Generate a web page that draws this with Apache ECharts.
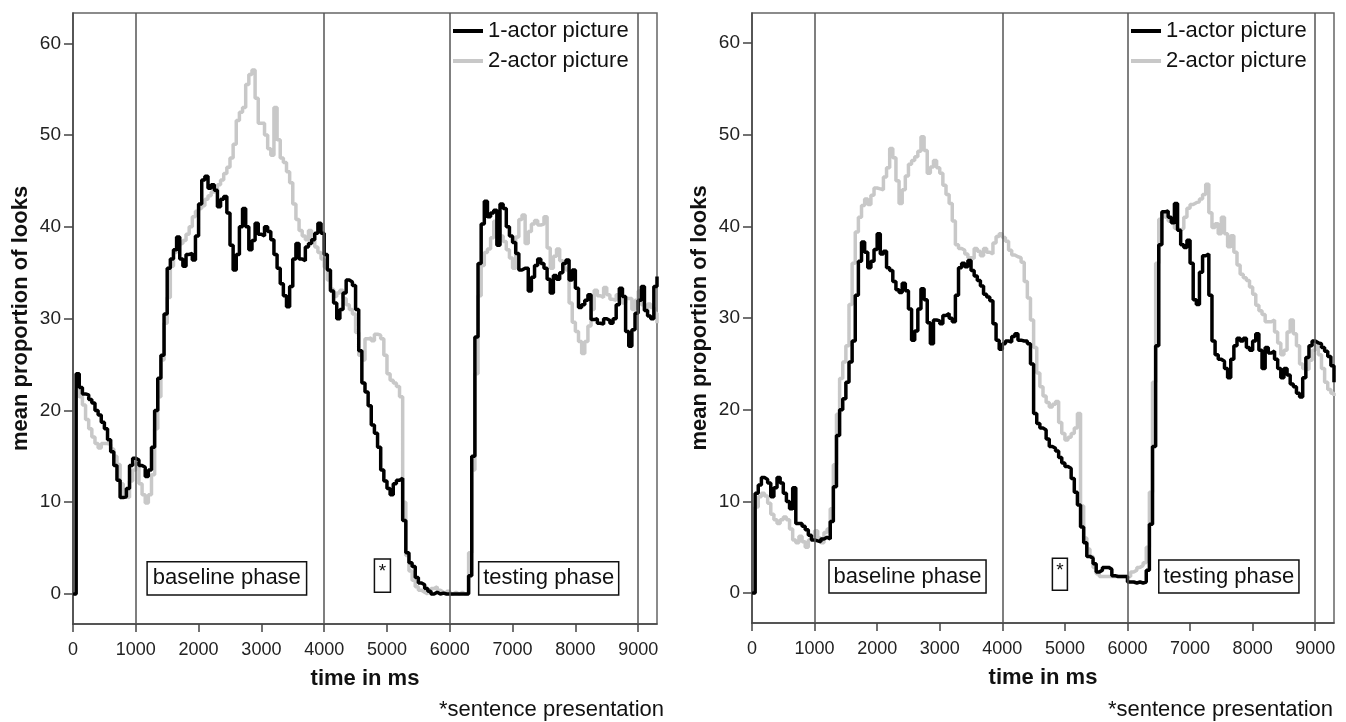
<!DOCTYPE html>
<html>
<head>
<meta charset="utf-8">
<title>mean proportion of looks</title>
<script src="https://cdn.jsdelivr.net/npm/echarts@6/dist/echarts.min.js"></script>
<style>
  html, body { margin: 0; padding: 0; background: #fff; }
  #chart { width: 1346px; height: 722px; }
</style>
</head>
<body>
<div id="chart"></div>
<script>
// sample times (ms), one reading every 50 ms
var timeMs = [
  0, 50, 100, 150, 200, 250, 300, 350, 400, 450, 500, 550, 600, 650, 700, 750, 800, 850, 900, 950,
  1000, 1050, 1100, 1150, 1200, 1250, 1300, 1350, 1400, 1450, 1500, 1550, 1600, 1650, 1700, 1750, 1800, 1850, 1900, 1950,
  2000, 2050, 2100, 2150, 2200, 2250, 2300, 2350, 2400, 2450, 2500, 2550, 2600, 2650, 2700, 2750, 2800, 2850, 2900, 2950,
  3000, 3050, 3100, 3150, 3200, 3250, 3300, 3350, 3400, 3450, 3500, 3550, 3600, 3650, 3700, 3750, 3800, 3850, 3900, 3950,
  4000, 4050, 4100, 4150, 4200, 4250, 4300, 4350, 4400, 4450, 4500, 4550, 4600, 4650, 4700, 4750, 4800, 4850, 4900, 4950,
  5000, 5050, 5100, 5150, 5200, 5250, 5300, 5350, 5400, 5450, 5500, 5550, 5600, 5650, 5700, 5750, 5800, 5850, 5900, 5950,
  6000, 6050, 6100, 6150, 6200, 6250, 6300, 6350, 6400, 6450, 6500, 6550, 6600, 6650, 6700, 6750, 6800, 6850, 6900, 6950,
  7000, 7050, 7100, 7150, 7200, 7250, 7300, 7350, 7400, 7450, 7500, 7550, 7600, 7650, 7700, 7750, 7800, 7850, 7900, 7950,
  8000, 8050, 8100, 8150, 8200, 8250, 8300, 8350, 8400, 8450, 8500, 8550, 8600, 8650, 8700, 8750, 8800, 8850, 8900, 8950,
  9000, 9050, 9100, 9150, 9200, 9250, 9300
]

// left panel
var leftOneActor = [
  0, 24, 22.5, 21.8, 21.7, 21.2, 20.8, 20, 19.5, 18.7, 18, 16.8, 15.5, 14, 12.4, 10.5, 10.6, 11.5, 14, 14.8,
  14.6, 14, 13.8, 12.8, 13.5, 16, 20, 23.5, 26, 30.5, 35.5, 36.5, 37.5, 38.9, 36.5, 35.7, 37, 37.1, 36.4, 39,
  42.5, 45.1, 45.5, 44.2, 44.6, 44, 42.2, 43, 43.3, 41.5, 38, 35.3, 37, 40, 42, 40, 37.5, 38.5, 40.4, 39.2,
  39, 40, 39.5, 38.6, 37, 35.5, 33.8, 32.5, 31.3, 33.5, 36.5, 38.2, 36.5, 36.3, 37.8, 38.2, 38.6, 39.3, 40.4, 39.3,
  37, 35.3, 33, 31.7, 30, 31, 32.8, 34.2, 34, 33.6, 31, 26.5, 23, 22, 20.5, 18.4, 17.5, 16, 13.5, 12.3,
  11.5, 10.8, 12, 12.4, 12.6, 8, 4.5, 3.4, 3, 1.8, 1.2, 1, 0.6, 0.3, 0, 0.2, 0, 0.1, 0, 0,
  0, 0, 0, 0, 0, 0, 2, 15, 28, 36, 40.3, 42.8, 41.1, 41.5, 41.8, 38, 42.5, 42, 40, 39,
  38.3, 37.1, 35.3, 35.5, 35.5, 33, 34.5, 35.8, 36.5, 36, 35.5, 34.3, 32.8, 34.7, 34.3, 35, 36, 36.4, 34.2, 35.3,
  33.3, 31.2, 31.5, 32, 32.6, 29.9, 30, 29.5, 29.4, 30, 29.8, 29.5, 30, 31.5, 33.3, 32.4, 28.6, 27, 28.8, 30.6,
  32, 33.5, 30.9, 30.3, 30, 33.5, 34.6
]
var leftTwoActor = [
  0, 22.2, 21.5, 20.6, 19, 18, 17.1, 16.4, 15.9, 16.4, 16.4, 16.3, 15.8, 15, 14.1, 12, 10.6, 10.5, 12.3, 13.5,
  14.2, 12, 10.8, 9.9, 10.8, 13, 18, 21.5, 25.5, 29.5, 32.3, 35.7, 37.2, 37.9, 38.2, 38.5, 39.2, 40, 41.1, 41.7,
  42, 42.3, 43, 43.4, 43.8, 44, 44.6, 45.1, 45.8, 46.5, 47.5, 49, 51.6, 52.5, 53, 55.5, 56.6, 57.1, 54, 51.3,
  51.3, 50, 48.5, 47.8, 53, 49.5, 47.5, 47, 46, 44.8, 42.5, 40.8, 39.6, 39, 38.6, 39.6, 38.5, 37.8, 37.2, 36.5,
  35.6, 34.2, 33.2, 32.4, 32.8, 33.1, 32.2, 31.5, 31, 30.5, 28.5, 26, 25.5, 27.8, 27.9, 27.6, 28.3, 28.2, 27.8, 26,
  24, 23.3, 23, 22.6, 21.5, 10, 4.2, 2.5, 1.5, 0.8, 0.4, 0.2, 0, 0.3, 0.6, 0.8, 0.4, 0.2, 0, 0.3,
  0, 0.2, 0, 0.2, 0, 0.1, 4.5, 13.5, 24, 32.5, 35.8, 37.2, 37.6, 38.8, 40.6, 39.8, 39, 38.4, 37.5, 36.6,
  35.5, 38.9, 40.8, 41.3, 38.2, 39.5, 40.3, 40.7, 40.2, 40.3, 41.1, 37.7, 35.5, 36.8, 37.6, 36.3, 35.6, 35.3, 31.7, 29.6,
  28.6, 27.5, 26.2, 27.5, 29.2, 31, 33.1, 32.5, 32.3, 33.4, 32.6, 32.1, 32, 32.6, 32.5, 31.7, 32.2, 32.2, 31, 32,
  33, 31.5, 30.9, 31.6, 31.2, 30.6, 29.5
]

// right panel
var rightOneActor = [
  0, 10.9, 11.8, 12.6, 12.4, 12, 10.5, 11.5, 12.6, 12, 10.9, 10, 9.2, 11.5, 7.6, 7.6, 7.3, 6.9, 6.3, 5.8,
  5.7, 5.6, 5.9, 6.1, 5.9, 7.8, 11.6, 17.2, 20, 21.2, 23, 25.2, 27.5, 32.5, 36.2, 38.3, 37.2, 35.5, 36.2, 37.5,
  39.2, 37, 37.3, 35.5, 35.2, 34, 33.1, 32.8, 33.8, 33, 31, 27.6, 28.6, 31, 33.2, 32, 29.5, 27.2, 29.8, 29.7,
  29.4, 30.3, 30.5, 30, 29.6, 32.5, 35.5, 36, 35.6, 36.3, 35.2, 34.6, 34.1, 33.5, 32.6, 32.3, 31.9, 29.4, 27.6, 26.6,
  27.2, 27.5, 27.4, 28, 28.3, 27.6, 27.5, 27.5, 27.2, 25, 19.6, 18.5, 18, 17.8, 16.8, 16, 15.8, 15.5, 14.8, 14.2,
  13.8, 13.6, 12.5, 11, 9.6, 7.2, 5.5, 4, 3.8, 3.2, 2.3, 2.5, 2.8, 2.8, 2.6, 1.9, 1.8, 1.8, 1.8, 1.8,
  1.2, 1.2, 1.1, 1.2, 1.1, 1.2, 2.5, 7.5, 16, 27, 38, 41.6, 41.7, 41, 40.4, 42.5, 39.6, 38, 37.7, 38.5,
  36, 32, 31.5, 35, 36.8, 37, 32.5, 27.5, 26, 25.5, 25.3, 24.5, 23.5, 25.5, 27, 27.8, 27.5, 27.8, 26.8, 26.5,
  27.5, 28.3, 26.5, 24.5, 26.8, 26.2, 26.4, 25.5, 24.5, 23.5, 24.5, 23.8, 22.8, 22.5, 21.8, 21.4, 23.5, 25.7, 27, 27.5,
  27.3, 27.2, 26.8, 26.4, 25.8, 24.8, 23
]
var rightTwoActor = [
  0, 9.4, 10.5, 10.9, 10.6, 9.8, 8.6, 8, 7.6, 8, 8.3, 8, 7, 5.8, 5.5, 6.2, 5.6, 5, 5.8, 6.2,
  6.8, 6, 5.5, 6.6, 7, 9.2, 14, 19.5, 23.4, 25.2, 27, 31.5, 36, 39.4, 41, 42.3, 43, 42.4, 43.4, 44.2,
  44.1, 44, 45.4, 46.4, 48.5, 47.5, 45, 42.5, 44, 45.5, 46.8, 47.2, 47.6, 48.2, 49.8, 48.3, 45.8, 46.5, 47.2, 46.4,
  45.8, 44.5, 43.5, 42.5, 40.6, 38, 37.6, 37.4, 37, 36.6, 36.5, 37.6, 37.3, 36.8, 37.6, 37.2, 37, 38.2, 38.9, 39.2,
  38.8, 38.4, 37.4, 36.9, 36.7, 36.6, 36.1, 34, 32.2, 29.8, 26.8, 24, 22.5, 21.5, 20.8, 20.3, 20.6, 20.9, 18.6, 17.4,
  16.7, 17, 17.4, 18, 19.6, 9.5, 6, 4.8, 4, 2.8, 2.1, 1.8, 1.8, 1.8, 1.8, 1.8, 1.8, 1.8, 1.8, 1.8,
  1.8, 2.3, 2.5, 2.8, 3, 3.3, 5, 11, 23, 36, 40.8, 41.5, 41, 40.6, 40.4, 39.8, 39.6, 39.8, 41, 42,
  42.4, 42.6, 42.7, 43, 43.5, 44.6, 41.5, 39.9, 40.3, 39.2, 41, 39.2, 37.8, 39, 37.2, 35.8, 34.8, 34.4, 34.1, 33.4,
  32.6, 31.4, 30.8, 30.4, 29.6, 29.6, 29.8, 28.5, 27.3, 26, 26.5, 28.5, 29.8, 28.3, 27, 25, 24.5, 24.4, 25.4, 26.5,
  27.2, 26, 24.5, 23, 22.2, 21.8, 21.5
]

var seriesNames = ['1-actor picture', '2-actor picture']
var yTicks = [0, 10, 20, 30, 40, 50, 60]
var phaseLines = [1000, 4000, 6000, 9000]
// phase boxes: [label, x from, x to, y from, y to]
var leftBoxes = [
  ['baseline phase', 1180, 3720, -0.1, 3.5],
  ['*', 4800, 5055, 0.2, 3.8],
  ['testing phase', 6460, 8690, -0.1, 3.5]
]
var rightBoxes = [
  ['baseline phase', 1230, 3740, 0, 3.6],
  ['*', 4800, 5040, 0.3, 3.8],
  ['testing phase', 6500, 8740, 0, 3.6]
]

var FONT = 'Liberation Sans, Arial, sans-serif'

function pairs(vals) {
  return timeMs.map(function(t, i) { return [t, vals[i]] })
}

function boxData(boxes) {
  return boxes.map(function(b) {
    return [
      {
        name: b[0],
        xAxis: b[1],
        yAxis: b[3],
        label: b[0] === '*' ? { position: 'insideTop', fontSize: 19, distance: 4 } : {}
      },
      { xAxis: b[2], yAxis: b[4] }
    ]
  })
}

function xAxisFor(idx) {
  return {
    type: 'value',
    gridIndex: idx,
    min: 0,
    max: 9300,
    interval: 1000,
    name: 'time in ms',
    nameLocation: 'middle',
    nameGap: 44,
    nameTextStyle: { fontSize: 22, fontWeight: 'bold', color: '#111', fontFamily: FONT },
    axisLine: { show: true, onZero: false, lineStyle: { color: '#444', width: 1.5 } },
    axisTick: { show: true, length: 8, lineStyle: { color: '#444', width: 1.5 } },
    axisLabel: {
      margin: 17,
      fontSize: 18,
      color: '#222',
      fontFamily: FONT,
      showMaxLabel: false,
      formatter: function(v) { return String(v) }
    },
    splitLine: { show: false }
  }
}

function yAxisFor(idx) {
  return {
    type: 'value',
    gridIndex: idx,
    min: -3.27,
    max: 63.3,
    name: 'mean proportion of looks',
    nameLocation: 'middle',
    nameGap: 41,
    nameTextStyle: { fontSize: 22, fontWeight: 'bold', color: '#111', fontFamily: FONT },
    axisLine: { show: true, onZero: false, lineStyle: { color: '#444', width: 1.5 } },
    axisTick: { show: true, length: 9, customValues: yTicks, lineStyle: { color: '#444', width: 1.5 } },
    axisLabel: { margin: 12, fontSize: 19, color: '#222', fontFamily: FONT, customValues: yTicks },
    splitLine: { show: false }
  }
}

function panelSeries(idx, oneActor, twoActor, boxes) {
  return [
    {
      name: seriesNames[1],
      type: 'line',
      xAxisIndex: idx,
      yAxisIndex: idx,
      data: pairs(twoActor),
      step: 'end',
      showSymbol: false,
      symbol: 'none',
      color: '#c8c8c8',
      lineStyle: { color: '#c8c8c8', width: 3.5 },
      z: 3
    },
    {
      name: seriesNames[0],
      type: 'line',
      xAxisIndex: idx,
      yAxisIndex: idx,
      data: pairs(oneActor),
      step: 'end',
      showSymbol: false,
      symbol: 'none',
      color: '#000',
      lineStyle: { color: '#000', width: 3.5 },
      z: 4,
      markLine: {
        silent: true,
        symbol: ['none', 'none'],
        label: { show: false },
        lineStyle: { color: '#555', width: 1.5, type: 'solid' },
        data: phaseLines.map(function(x) { return { xAxis: x } })
      },
      markArea: {
        silent: true,
        itemStyle: { color: '#fff', borderColor: '#111', borderWidth: 1.5 },
        label: { show: true, position: 'inside', color: '#111', fontSize: 22, fontFamily: FONT },
        data: boxData(boxes)
      }
    }
  ]
}

function legendFor(left) {
  return {
    data: seriesNames,
    orient: 'vertical',
    left: left,
    top: 15,
    icon: 'rect',
    itemWidth: 30,
    itemHeight: 4,
    itemGap: 8,
    selectedMode: false,
    textStyle: { fontSize: 22, color: '#111', fontFamily: FONT }
  }
}

var chart = echarts.init(document.getElementById('chart'), null, { renderer: 'canvas' })
chart.setOption({
  animation: false,
  backgroundColor: '#fff',
  textStyle: { fontFamily: FONT },
  grid: [
    { left: 73, top: 13, width: 584, height: 611, show: true, borderColor: '#666', borderWidth: 1.5, backgroundColor: 'transparent', containLabel: false, outerBoundsMode: 'none' },
    { left: 752, top: 13, width: 582, height: 610, show: true, borderColor: '#666', borderWidth: 1.5, backgroundColor: 'transparent', containLabel: false, outerBoundsMode: 'none' }
  ],
  xAxis: [xAxisFor(0), xAxisFor(1)],
  yAxis: [yAxisFor(0), yAxisFor(1)],
  legend: [legendFor(448), legendFor(1126)],
  series: panelSeries(0, leftOneActor, leftTwoActor, leftBoxes)
    .concat(panelSeries(1, rightOneActor, rightTwoActor, rightBoxes)),
  graphic: [
    { type: 'text', right: 682, bottom: 1, style: { text: '*sentence presentation', fontSize: 22, fill: '#111', fontFamily: FONT } },
    { type: 'text', right: 13, bottom: 1, style: { text: '*sentence presentation', fontSize: 22, fill: '#111', fontFamily: FONT } }
  ]
})
</script>
</body>
</html>
